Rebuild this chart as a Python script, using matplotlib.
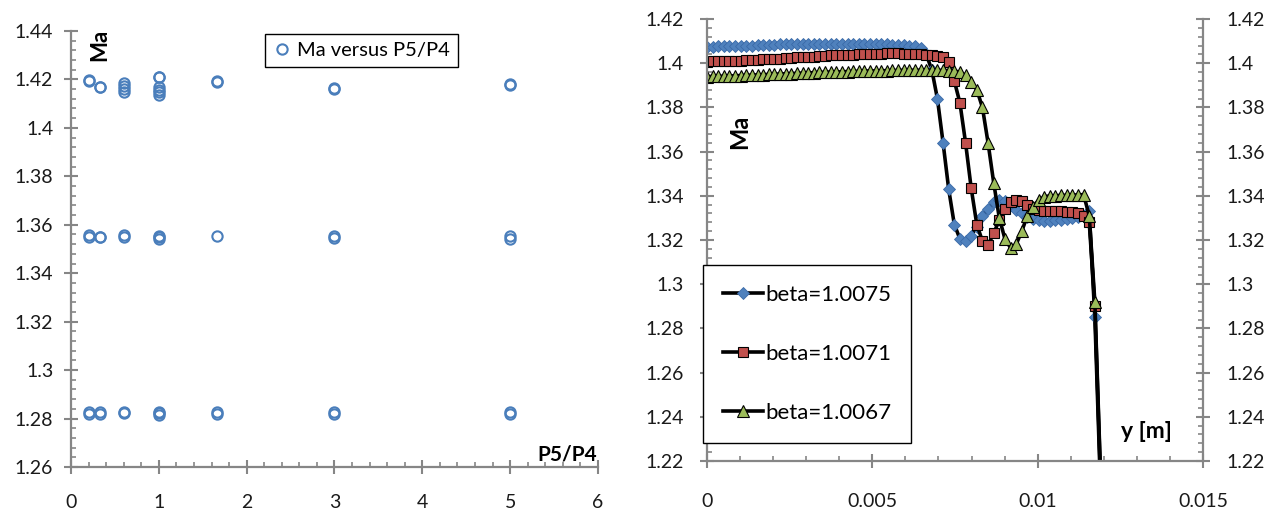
import matplotlib.pyplot as plt
from matplotlib.ticker import MultipleLocator

plt.rcParams["font.family"] = ["Lato", "DejaVu Sans"]

# left chart: Mach number for each pressure ratio
p5_p4 = [0.2, 0.2, 0.2, 0.2, 0.2, 0.2,
         0.333, 0.333, 0.333, 0.333, 0.333, 0.333,
         0.6, 0.6, 0.6, 0.6, 0.6, 0.6, 0.6, 0.6,
         1.0, 1.0, 1.0, 1.0, 1.0, 1.0, 1.0, 1.0, 1.0, 1.0, 1.0, 1.0,
         1.667, 1.667, 1.667, 1.667, 1.667,
         3.0, 3.0, 3.0, 3.0, 3.0, 3.0,
         5.0, 5.0, 5.0, 5.0, 5.0, 5.0]
ma_ratio = [1.4198, 1.4195, 1.3558, 1.3550, 1.2825, 1.2820,
            1.4170, 1.4168, 1.3550, 1.3548, 1.2825, 1.2820,
            1.4185, 1.4172, 1.4160, 1.4148, 1.3558, 1.3550, 1.2826, 1.2822,
            1.4212, 1.4208, 1.4168, 1.4158, 1.4148, 1.4135, 1.3555, 1.3548, 1.3540, 1.2828, 1.2822, 1.2816,
            1.4195, 1.4188, 1.3553, 1.2826, 1.2818,
            1.4163, 1.4160, 1.3553, 1.3545, 1.2826, 1.2818,
            1.4180, 1.4175, 1.3552, 1.3543, 1.2827, 1.2819]

# right chart: Mach number along y for three beta values
y_m = [0.0, 0.00017, 0.00034, 0.00051, 0.00068, 0.00085, 0.00102, 0.00119, 0.00136, 0.00153,
       0.0017, 0.00187, 0.00204, 0.00221, 0.00238, 0.00255, 0.00272, 0.00289, 0.00306, 0.00323,
       0.0034, 0.00357, 0.00374, 0.00391, 0.00408, 0.00425, 0.00442, 0.00459, 0.00476, 0.00493,
       0.0051, 0.00527, 0.00544, 0.00561, 0.00578, 0.00595, 0.00612, 0.00629, 0.00646, 0.00663,
       0.0068, 0.00697, 0.00714, 0.00731, 0.00748, 0.00765, 0.00782, 0.00799, 0.00816, 0.00833,
       0.0085, 0.00867, 0.00884, 0.00901, 0.00918, 0.00935, 0.00952, 0.00969, 0.00986, 0.01003,
       0.0102, 0.01037, 0.01054, 0.01071, 0.01088, 0.01105, 0.01122, 0.01139, 0.01156, 0.01173,
       0.01205]

ma_b0075 = [1.4075, 1.4075, 1.4076, 1.4077, 1.4078, 1.4078, 1.4079, 1.4080, 1.4080, 1.4081,
            1.4082, 1.4083, 1.4084, 1.4085, 1.4085, 1.4086, 1.4087, 1.4087, 1.4088, 1.4088,
            1.4088, 1.4089, 1.4089, 1.4089, 1.4089, 1.4088, 1.4088, 1.4088, 1.4087, 1.4087,
            1.4086, 1.4086, 1.4085, 1.4084, 1.4083, 1.4082, 1.4080, 1.4077, 1.4070, 1.4040,
            1.3970, 1.3838, 1.3640, 1.3430, 1.3270, 1.3205, 1.3195, 1.3220, 1.3260, 1.3310,
            1.3340, 1.3370, 1.3380, 1.3375, 1.3360, 1.3335, 1.3320, 1.3305, 1.3295, 1.3290,
            1.3288, 1.3288, 1.3290, 1.3292, 1.3295, 1.3300, 1.3305, 1.3310, 1.3330, 1.2850,
            1.1400]
ma_b0071 = [1.4007, 1.4008, 1.4009, 1.4010, 1.4010, 1.4011, 1.4012, 1.4013, 1.4014, 1.4015,
            1.4017, 1.4018, 1.4020, 1.4021, 1.4023, 1.4024, 1.4026, 1.4027, 1.4029, 1.4030,
            1.4032, 1.4033, 1.4035, 1.4036, 1.4037, 1.4038, 1.4039, 1.4040, 1.4041, 1.4042,
            1.4043, 1.4043, 1.4044, 1.4044, 1.4044, 1.4043, 1.4042, 1.4041, 1.4040, 1.4038,
            1.4036, 1.4034, 1.4030, 1.4005, 1.3920, 1.3820, 1.3640, 1.3435, 1.3270, 1.3195,
            1.3177, 1.3230, 1.3290, 1.3340, 1.3370, 1.3380, 1.3375, 1.3360, 1.3340, 1.3335,
            1.3333, 1.3333, 1.3332, 1.3330, 1.3328, 1.3325, 1.3320, 1.3310, 1.3280, 1.2900,
            1.1450]
ma_b0067 = [1.3939, 1.3940, 1.3940, 1.3941, 1.3942, 1.3943, 1.3944, 1.3945, 1.3946, 1.3947,
            1.3948, 1.3949, 1.3950, 1.3951, 1.3952, 1.3953, 1.3954, 1.3955, 1.3956, 1.3957,
            1.3958, 1.3959, 1.3960, 1.3960, 1.3961, 1.3962, 1.3963, 1.3963, 1.3964, 1.3965,
            1.3965, 1.3966, 1.3966, 1.3967, 1.3967, 1.3968, 1.3968, 1.3968, 1.3968, 1.3968,
            1.3968, 1.3968, 1.3967, 1.3966, 1.3964, 1.3960, 1.3945, 1.3915, 1.3880, 1.3800,
            1.3640, 1.3460, 1.3300, 1.3205, 1.3165, 1.3180, 1.3240, 1.3310, 1.3350, 1.3380,
            1.3395, 1.3400, 1.3400, 1.3402, 1.3402, 1.3403, 1.3404, 1.3405, 1.3310, 1.2920,
            1.1470]

AXIS_GREY = "#868686"
TXT = "#1a1a1a"


def excel_axes(ax):
    for side in ["left", "bottom", "right", "top"]:
        ax.spines[side].set_color(AXIS_GREY)
        ax.spines[side].set_linewidth(1.6)
    ax.spines["top"].set_visible(False)
    ax.tick_params(which="major", direction="inout", length=9.5, width=1.5,
                   color=AXIS_GREY, labelcolor=TXT, labelsize=14)
    ax.tick_params(which="minor", direction="in", length=3.8, width=1.2,
                   color=AXIS_GREY)


# ---------- left panel ----------
fig = plt.figure(figsize=(12.84, 5.13), dpi=100)
ax1 = fig.add_axes([0.0553, 0.0897, 0.4104, 0.8499])
excel_axes(ax1)
ax1.spines["right"].set_visible(False)

ax1.plot(p5_p4, ma_ratio, linestyle="none", marker="o", markersize=7.4,
         markerfacecolor="none", markeredgecolor="#4a7ebb", markeredgewidth=1.5,
         label="Ma versus P5/P4")

ax1.set_xlim(0, 6)
ax1.set_ylim(1.26, 1.44)
ax1.xaxis.set_major_locator(MultipleLocator(1))
ax1.xaxis.set_minor_locator(MultipleLocator(0.2))
ax1.yaxis.set_minor_locator(MultipleLocator(0.004))
ax1.set_yticks([1.26, 1.28, 1.3, 1.32, 1.34, 1.36, 1.38, 1.4, 1.42, 1.44])
ax1.set_yticklabels(["1.26", "1.28", "1.3", "1.32", "1.34", "1.36", "1.38", "1.4", "1.42", "1.44"])
ax1.tick_params(axis="x", which="major", pad=15)
ax1.tick_params(axis="y", which="major", pad=8)

ax1.text(0.055, 1.004, "Ma", transform=ax1.transAxes, rotation=90,
         fontsize=16, fontweight="bold", ha="center", va="top", color="black")
ax1.text(0.998, 0.028, "P5/P4", transform=ax1.transAxes,
         fontsize=15, fontweight="bold", ha="right", va="center", color="black")

leg1 = ax1.legend(loc="upper left", bbox_to_anchor=(0.368, 0.993), borderaxespad=0,
                  fontsize=14.5, handlelength=0.9, handletextpad=0.3,
                  borderpad=0.4, fancybox=False, framealpha=1)
leg1.get_frame().set_edgecolor("black")
leg1.get_frame().set_linewidth(1.0)

# ---------- right panel ----------
ax2 = fig.add_axes([0.5506, 0.1014, 0.3863, 0.8616])
excel_axes(ax2)

ax2.plot(y_m, ma_b0075, color="black", linewidth=2.6, marker="D", markersize=6,
         markerfacecolor="#4f81bd", markeredgecolor="#3a6aa8", markeredgewidth=0.6,
         label="beta=1.0075")
ax2.plot(y_m, ma_b0071, color="black", linewidth=2.6, marker="s", markersize=7.6,
         markerfacecolor="#c0504d", markeredgecolor="black", markeredgewidth=0.8,
         label="beta=1.0071")
ax2.plot(y_m, ma_b0067, color="black", linewidth=2.6, marker="^", markersize=9,
         markerfacecolor="#9bbb59", markeredgecolor="black", markeredgewidth=0.8,
         label="beta=1.0067")

ax2.set_xlim(0, 0.015)
ax2.set_ylim(1.22, 1.42)
ax2.set_xticks([0, 0.005, 0.01, 0.015])
ax2.set_xticklabels(["0", "0.005", "0.01", "0.015"])
ax2.xaxis.set_minor_locator(MultipleLocator(0.001))
yt = [1.22, 1.24, 1.26, 1.28, 1.3, 1.32, 1.34, 1.36, 1.38, 1.4, 1.42]
ax2.set_yticks(yt)
ax2.set_yticklabels(["1.22", "1.24", "1.26", "1.28", "1.3", "1.32", "1.34",
                     "1.36", "1.38", "1.4", "1.42"])
ax2.yaxis.set_minor_locator(MultipleLocator(0.004))
ax2.tick_params(axis="y", which="both", right=True, labelright=True)
ax2.tick_params(axis="x", which="major", pad=18)
ax2.tick_params(axis="y", which="major", pad=12)

ax2.text(0.0665, 0.744, "Ma", transform=ax2.transAxes, rotation=90,
         fontsize=17, fontweight="bold", ha="center", va="center", color="black")
ax2.text(0.885, 0.066, "y [m]", transform=ax2.transAxes,
         fontsize=16.5, fontweight="bold", ha="center", va="center", color="black")

leg2 = ax2.legend(loc="upper left", bbox_to_anchor=(-0.008, 0.4434), borderaxespad=0,
                  fontsize=16, handlelength=1.8, handletextpad=0.1,
                  labelspacing=1.75, borderpad=0.9, fancybox=False, framealpha=1)
leg2.get_frame().set_edgecolor("black")
leg2.get_frame().set_linewidth(1.0)

fig.savefig("out.png", dpi=100)
